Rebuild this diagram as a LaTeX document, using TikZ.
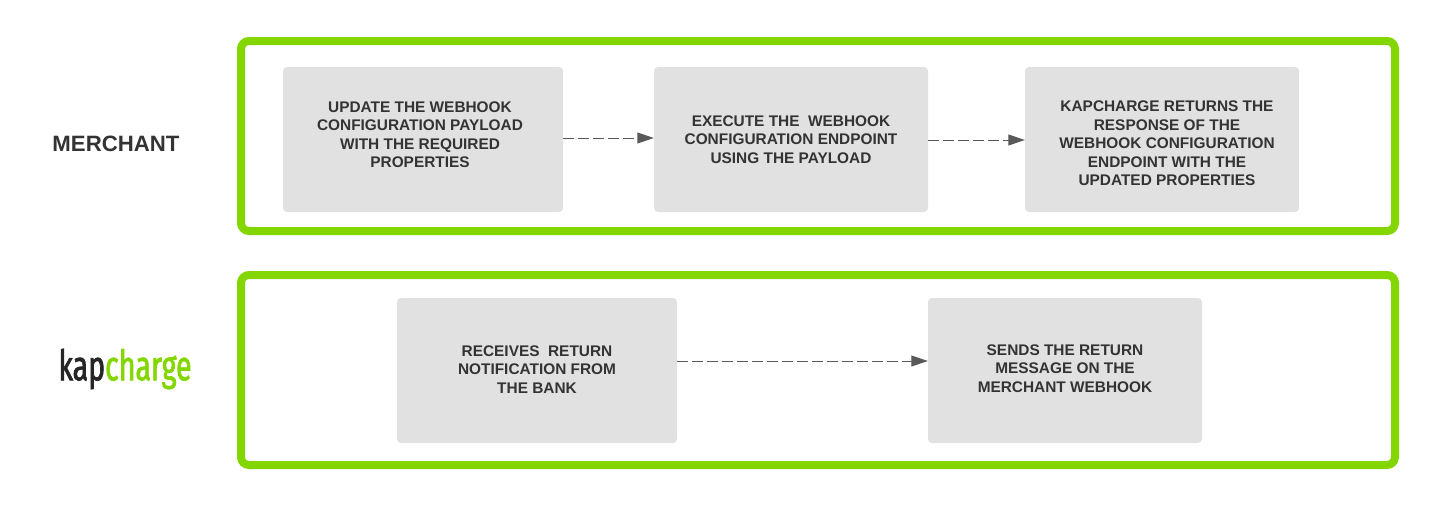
\documentclass[tikz,border=0pt]{standalone}
\usepackage{fontspec}
\setmainfont{Liberation Sans}
\newfontfamily\logofont[FakeStretch=0.68,FakeBold=1.6]{Fira Sans}
\usetikzlibrary{
  arrows.meta,
  positioning,
  calc,
  }
\definecolor{lanegreen}{HTML}{83D600}
\definecolor{boxgrey}{HTML}{E1E1E1}
\definecolor{flowgrey}{HTML}{595959}
\definecolor{textgrey}{HTML}{333333}
\tikzset{
  lane/.style={draw=lanegreen, line width=8pt, rounded corners=8pt},
  stepbox/.style={fill=boxgrey, rounded corners=4pt, inner sep=0pt, minimum height=145pt},
  steptext/.style={align=center, text=textgrey, font=\fontsize{15.4}{18.5}\selectfont\bfseries, inner sep=0pt},
  flow/.style={draw=flowgrey, line width=0.9pt, dash pattern=on 10.5pt off 4.5pt, -{Triangle[length=16.5pt,width=11pt]}},
}
\begin{document}
\begin{tikzpicture}[x=1pt,y=-1pt]
  \useasboundingbox (0,0) rectangle (1435,506);
  \draw[lane] (241,41) rectangle (1395,231);
  \draw[lane] (241,275) rectangle (1395,465);

  \node[stepbox, minimum width=280pt] (update) at (423,139.5) {};
  \node[stepbox, minimum width=274pt] (execute) at (791,139.5) {};
  \node[stepbox, minimum width=274pt] (returns) at (1162,139.5) {};
  \node[stepbox, minimum width=280pt] (receives) at (537,370.5) {};
  \node[stepbox, minimum width=274pt] (sends) at (1065,370.5) {};

  \node[steptext] at (420,134.5) {UPDATE THE WEBHOOK\\CONFIGURATION PAYLOAD\\WITH THE REQUIRED\\PROPERTIES};
  \node[steptext] at (791,139.5) {EXECUTE THE\ \ WEBHOOK\\CONFIGURATION ENDPOINT\\USING THE PAYLOAD};
  \node[steptext] at (1167,143.5) {KAPCHARGE RETURNS THE\\RESPONSE OF THE\\WEBHOOK CONFIGURATION\\ENDPOINT WITH THE\\UPDATED PROPERTIES};
  \node[steptext] at (537,369.5) {RECEIVES\ \ RETURN\\NOTIFICATION FROM\\THE BANK};
  \node[steptext] at (1065,368.5) {SENDS THE RETURN\\MESSAGE ON THE\\MERCHANT WEBHOOK};

  \draw[flow] ([yshift=1.5pt]update.east) -- ([yshift=1.5pt]execute.west);
  \draw[flow] ([yshift=-0.5pt]execute.east) -- ([yshift=-0.5pt]returns.west);
  \draw[flow] ([yshift=9.5pt]receives.east) -- ([yshift=9.5pt]sends.west);

  \node[font=\fontsize{22.2}{26}\selectfont\bfseries, text=textgrey, inner sep=0pt] (merchant) at (116,143.5) {MERCHANT};
  \node[font=\fontsize{42}{46}\logofont, inner sep=0pt] (logo) at (125,369) {\textcolor{black!85}{kap}\textcolor{lanegreen}{charge}};
\end{tikzpicture}
\end{document}
